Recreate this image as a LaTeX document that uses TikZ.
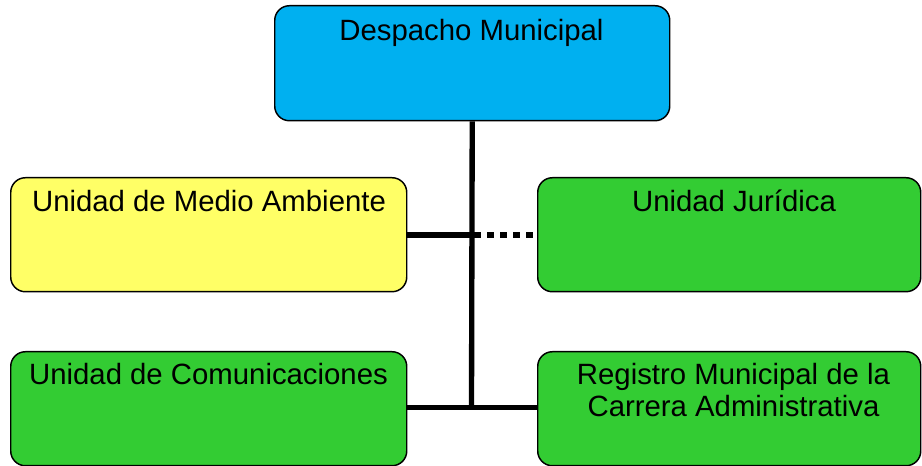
\documentclass[tikz,border=0pt]{standalone}
\usepackage{fontspec}
\setmainfont{Liberation Sans}
\definecolor{cblue}{HTML}{00B0F0}
\definecolor{cyellow}{HTML}{FFFF66}
\definecolor{cgreen}{HTML}{33CC33}
\begin{document}
\begin{tikzpicture}[x=0.75pt,y=-0.75pt,
  box/.style={draw=black,line width=1.1pt,rounded corners=11pt,inner sep=0pt,anchor=north west},
  lbl/.style={anchor=base,inner sep=0pt,font=\fontsize{22pt}{24pt}\selectfont,align=center},
  conn/.style={line width=4pt}]
\useasboundingbox (0,0) rectangle (922,466);
% boxes
\node[box,fill=cblue,minimum width=395*0.75pt,minimum height=115*0.75pt] (top) at (274,5) {};
\node[box,fill=cyellow,minimum width=396*0.75pt,minimum height=114*0.75pt] (amb) at (10,177) {};
\node[box,fill=cgreen,minimum width=383*0.75pt,minimum height=114*0.75pt] (jur) at (537,177) {};
\node[box,fill=cgreen,minimum width=396*0.75pt,minimum height=114*0.75pt] (com) at (10,351) {};
\node[box,fill=cgreen,minimum width=383*0.75pt,minimum height=114*0.75pt] (reg) at (537,351) {};
% labels
\node[lbl] (ttop) at (471.5,41) {Despacho Municipal};
\node[lbl] (tamb) at (209,212) {Unidad de Medio Ambiente};
\node[lbl] (tjur) at (734,212) {Unidad Jurídica};
\node[lbl] (tcom) at (208.5,385) {Unidad de Comunicaciones};
\node[lbl] (treg1) at (733.5,385) {Registro Municipal de la};
\node[lbl] (treg2) at (733.5,417) {Carrera Administrativa};
% connectors
\coordinate (j1) at (471.5,235);
\coordinate (j2) at (471.5,407.5);
\draw[conn] (top.south) -- (j2);
\draw[conn] (amb.east |- j1) -- (j1);
\draw[conn,dash pattern=on 5.25pt off 4.5pt] (j1) ++(2.7,0) -- (jur.west |- j1);
\draw[conn] (com.east |- j2) -- (reg.west |- j2);
\end{tikzpicture}
\end{document}
